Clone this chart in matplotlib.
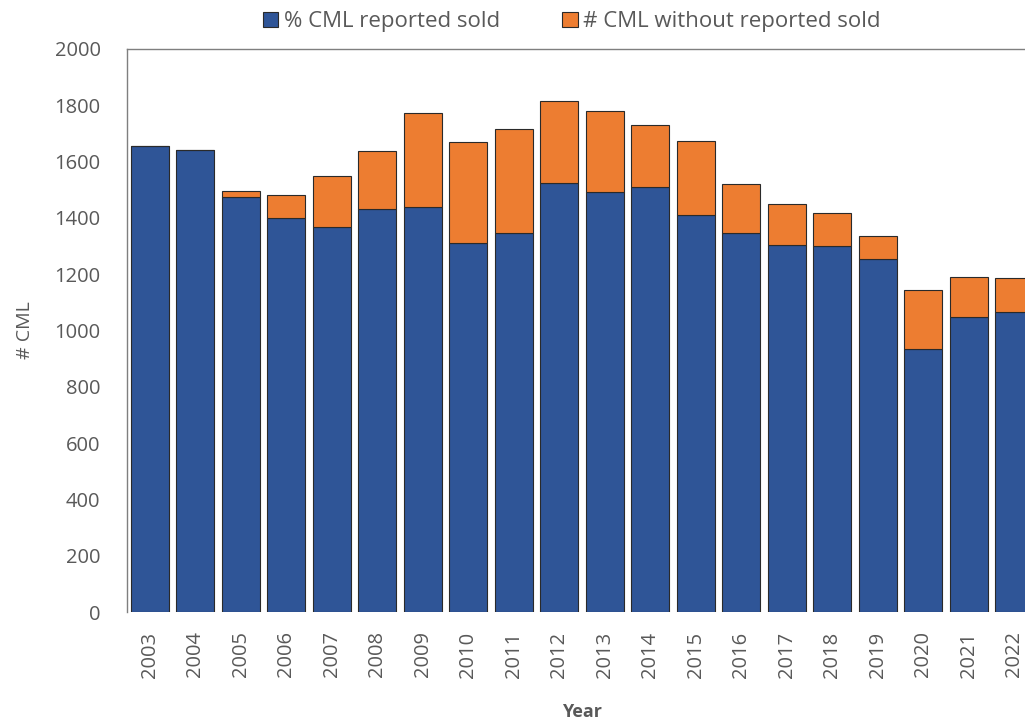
import numpy as np
import matplotlib.pyplot as plt

years = ['2003', '2004', '2005', '2006', '2007', '2008', '2009', '2010', '2011', '2012',
         '2013', '2014', '2015', '2016', '2017', '2018', '2019', '2020', '2021', '2022']
# blue part: CML reported sold
sold = [1655, 1640, 1475, 1398, 1366, 1433, 1440, 1310, 1345, 1525,
        1493, 1508, 1411, 1345, 1304, 1299, 1253, 935, 1047, 1067]
# bar totals (top of orange)
total = [1655, 1640, 1495, 1482, 1550, 1636, 1773, 1671, 1716, 1816,
         1780, 1730, 1674, 1520, 1449, 1417, 1336, 1145, 1191, 1185]
not_sold = [t - s for t, s in zip(total, sold)]

plt.rcParams['font.family'] = ['Open Sans', 'DejaVu Sans']
grey = '#595959'

fig = plt.figure(figsize=(10.25, 7.26), dpi=100)
ax = fig.add_axes([127/1025, 114/726, 910/1025, 563/726])

b1 = ax.bar(years, sold, width=0.83, color='#2F5597', edgecolor='#2a2a2a', linewidth=0.8,
            label='% CML reported sold')
b2 = ax.bar(years, not_sold, bottom=sold, width=0.83, color='#ED7D31', edgecolor='#2a2a2a',
            linewidth=0.8, label='# CML without reported sold')

ax.set_xlim(-0.5, 19.5)
ax.set_ylim(0, 2000)
ax.set_yticks(np.arange(0, 2001, 200))
ax.tick_params(axis='y', length=0, labelsize=14.5, labelcolor=grey, pad=19)
ax.tick_params(axis='x', length=0, labelsize=14.5, labelcolor=grey, rotation=90, pad=14)
for s in ax.spines.values():
    s.set_color('#7f7f7f')
    s.set_linewidth(1)
ax.spines['bottom'].set_visible(False)

ax.set_ylabel('# CML', fontsize=14, color=grey, labelpad=15)
ax.set_xlabel('Year', fontsize=13, color=grey, fontweight='bold', labelpad=18)

fig.legend(handles=[b1, b2], loc='center', bbox_to_anchor=(0.5576, 0.97), ncol=2,
           frameon=False, fontsize=16, labelcolor=grey, handlelength=0.7, handleheight=0.7,
           handletextpad=0.25, columnspacing=2.8)

fig.savefig('out.png', dpi=100)
